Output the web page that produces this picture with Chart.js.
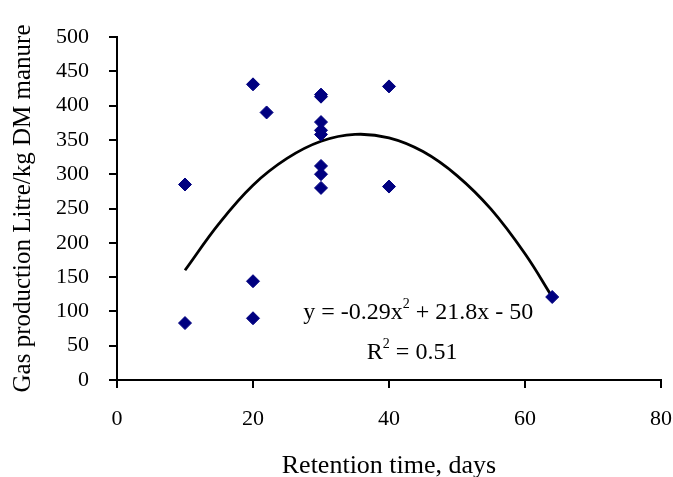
<!DOCTYPE html>
<html>
<head>
<meta charset="utf-8">
<script src="https://cdn.jsdelivr.net/npm/chart.js@4.4.1/dist/chart.umd.min.js"></script>
<style>
  html, body { margin: 0; padding: 0; background: #fff; }
  #wrap { width: 673px; height: 477px; }
</style>
</head>
<body>
<div id="wrap"><canvas id="gasChart" width="673" height="477"></canvas></div>
<script>
// ---- data ----
const retentionDays = [10, 10, 20, 20, 20, 22, 30, 30, 30, 30, 30, 30, 30, 30, 40, 40, 64];
const gasProduction = [285, 83, 431, 144, 90, 390, 416, 413, 376, 364, 358, 312, 300, 280, 428, 282, 121];

// polynomial trend line
const trendDays = [10, 15, 20, 25, 30, 35, 40, 45, 50, 55, 60, 64];
const trendGas = [160, 228, 284, 323, 348, 358, 353, 333, 298, 249, 184, 121];

const xTicks = [0, 20, 40, 60, 80];
const yTicks = [0, 50, 100, 150, 200, 250, 300, 350, 400, 450, 500];

const SERIF = '"Liberation Serif", "Times New Roman", serif';

// text with a raised "2", drawn centred at a point
function drawSuper(ctx, parts, cx, cy, size) {
    const small = Math.round(size * 0.6);
    let total = 0;
    parts.forEach(p => {
        ctx.font = (p.sup ? small : size) + 'px ' + SERIF;
        total += ctx.measureText(p.t).width;
    });
    let x = cx - total / 2;
    parts.forEach(p => {
        ctx.font = (p.sup ? small : size) + 'px ' + SERIF;
        ctx.fillText(p.t, x, p.sup ? cy - size * 0.36 : cy);
        x += ctx.measureText(p.t).width;
    });
}

const equationPlugin = {
    id: 'equationLabel',
    afterDatasetsDraw(chart) {
        const { ctx, scales } = chart;
        ctx.save();
        ctx.fillStyle = '#000';
        ctx.textBaseline = 'middle';
        ctx.textAlign = 'left';
        drawSuper(ctx, [
            { t: 'y = -0.29x' }, { t: '2', sup: true }, { t: ' + 21.8x - 50' }
        ], scales.x.getPixelForValue(44.3), scales.y.getPixelForValue(98), 24);
        drawSuper(ctx, [
            { t: 'R' }, { t: '2', sup: true }, { t: ' = 0.51' }
        ], scales.x.getPixelForValue(43.4), scales.y.getPixelForValue(40), 24);
        ctx.restore();
    }
};

const ctx = document.getElementById('gasChart');

new Chart(ctx, {
    type: 'scatter',
    data: {
        datasets: [
            {
                label: 'Gas production',
                data: retentionDays.map((d, i) => ({ x: d, y: gasProduction[i] })),
                backgroundColor: '#000080',
                borderColor: '#000080',
                pointStyle: 'rectRot',
                pointRadius: 6.5,
                order: 1
            },
            {
                label: 'Poly. trend',
                type: 'line',
                data: trendDays.map((d, i) => ({ x: d, y: trendGas[i] })),
                borderColor: '#000',
                borderWidth: 2.8,
                pointRadius: 0,
                tension: 0.4,
                fill: false,
                order: 2
            }
        ]
    },
    options: {
        responsive: false,
        animation: false,
        layout: { padding: { top: 37, right: 12, bottom: 0, left: 0 } },
        plugins: {
            legend: { display: false },
            tooltip: { enabled: false }
        },
        scales: {
            x: {
                type: 'linear',
                min: 0,
                max: 80,
                afterBuildTicks: axis => { axis.ticks = xTicks.map(v => ({ value: v })); },
                afterFit: axis => {
                    axis.height = 97;
                    axis.paddingLeft = 0;
                    axis.paddingRight = 0;
                },
                border: { color: '#000', width: 2 },
                grid: { display: true, drawOnChartArea: false, color: '#000', lineWidth: 2, tickLength: 8 },
                ticks: { color: '#000', padding: 18, font: { family: SERIF, size: 22 } },
                title: {
                    display: true,
                    text: 'Retention time, days',
                    color: '#000',
                    font: { family: SERIF, size: 26, lineHeight: 1 },
                    padding: { top: 0, bottom: -2 }
                }
            },
            y: {
                type: 'linear',
                min: 0,
                max: 500,
                afterBuildTicks: axis => { axis.ticks = yTicks.map(v => ({ value: v })); },
                afterFit: axis => {
                    axis.width = 117;
                    axis.paddingTop = 0;
                    axis.paddingBottom = 0;
                },
                border: { color: '#000', width: 2 },
                grid: { display: true, drawOnChartArea: false, color: '#000', lineWidth: 2, tickLength: 8 },
                ticks: { color: '#000', padding: 20, font: { family: SERIF, size: 22 } },
                title: {
                    display: true,
                    text: 'Gas production Litre/kg DM manure',
                    color: '#000',
                    font: { family: SERIF, size: 25, lineHeight: 1 },
                    padding: { top: 11, bottom: 0 }
                }
            }
        }
    },
    plugins: [equationPlugin]
});
</script>
</body>
</html>
